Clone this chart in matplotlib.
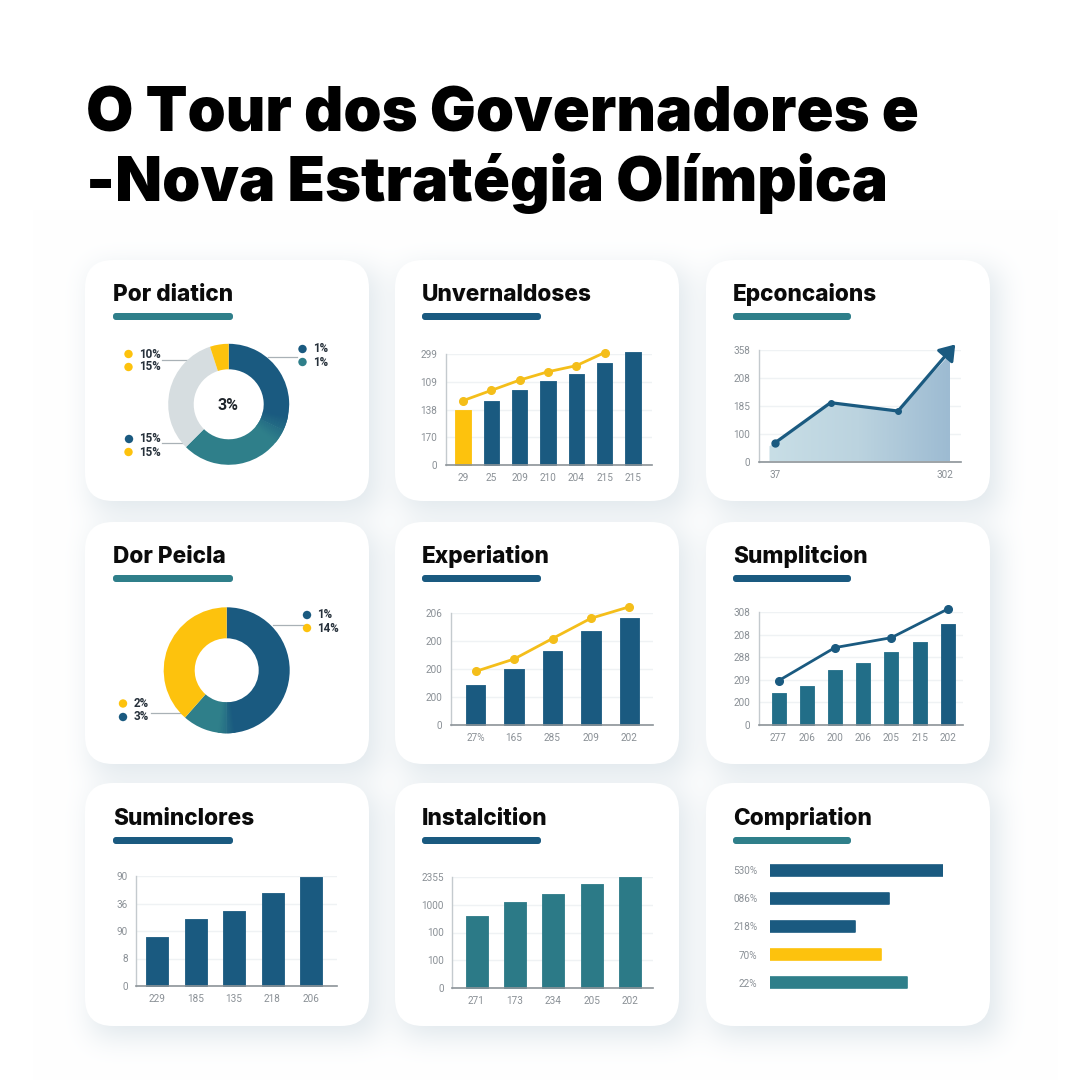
import numpy as np
import matplotlib
matplotlib.use("Agg")
import matplotlib.pyplot as plt
from matplotlib.patches import FancyBboxPatch, Wedge, Polygon, Circle
from matplotlib.colors import to_rgb, LinearSegmentedColormap

# ---------- data ----------
title_lines = ["O Tour dos Governadores e", "-Nova Estratégia Olímpica"]
card_titles = ["Por diaticn", "Unvernaldoses", "Epconcaions",
               "Dor Peicla", "Experiation", "Sumplitcion",
               "Suminclores", "Instalcition", "Compriation"]

donut1_values = [32, 30.5, 32.5, 5]
donut1_center = "3%"
donut2_values = [50, 11.5, 38.5]

unv_bars = [198, 232, 270, 303, 327, 369, 406]
unv_line = [232, 269, 306, 336, 358, 405]
unv_xlabels = ["29", "25", "209", "210", "204", "215", "215"]
unv_ylabels = ["0", "170", "138", "109", "299"]

epc_line_x = [37, 124, 229]
epc_line_y = [66, 211, 181]
epc_area_x = [29, 37, 124, 229, 310]
epc_area_y = [55, 66, 211, 181, 385]
epc_arrow_x = [229, 318]
epc_arrow_y = [181, 420]
epc_xticks = [37, 302]
epc_xlabels = ["37", "302"]
epc_ylabels = ["0", "100", "185", "208", "358"]

exp_bars = [144, 198, 262, 336, 380]
exp_line = [191, 235, 308, 380, 421]
exp_xlabels = ["27%", "165", "285", "209", "202"]
exp_ylabels = ["0", "200", "200", "200", "206"]

sum_bars = [142, 173, 241, 272, 321, 367, 445]
sum_line_x = [0, 2, 4, 6]
sum_line = [195, 342, 386, 513]
sum_xlabels = ["277", "206", "200", "206", "205", "215", "202"]
sum_ylabels = ["0", "200", "209", "288", "208", "308"]

sui_bars = [178, 243, 274, 337, 398]
sui_xlabels = ["229", "185", "135", "218", "206"]
sui_ylabels = ["0", "8", "90", "36", "90"]

ins_bars = [259, 310, 340, 373, 400]
ins_xlabels = ["271", "173", "234", "205", "202"]
ins_ylabels = ["0", "100", "100", "1000", "2355"]

com_values = [100, 69, 49, 64, 79]
com_labels = ["530%", "086%", "218%", "70%", "22%"]

# ---------- style ----------
NAVY = "#1A5A80"
TEAL = "#2F7F8A"
YEL = "#FDC20D"
GREY = "#D6DDE0"
TICK = "#8A9096"
GRID = "#EFF2F4"
AX_B = "#8C9398"
AX_L = "#C4CACE"
TITLE_FONT = ["Inter", "DejaVu Sans"]
TEXT_FONT = ["Roboto", "DejaVu Sans"]

W = H = 1080
fig = plt.figure(figsize=(W / 100, H / 100), dpi=100)
base = fig.add_axes([0, 0, 1, 1])
base.set_xlim(0, W)
base.set_ylim(H, 0)
base.axis("off")

cards = [(85, 369, 260, 501), (395, 679, 260, 501), (706, 990, 260, 501),
         (85, 369, 522, 764), (395, 679, 522, 764), (706, 990, 522, 764),
         (85, 369, 783, 1026), (395, 679, 783, 1026), (706, 990, 783, 1026)]


def blur(a, s):
    r = int(4 * s)
    k = np.exp(-0.5 * (np.arange(-r, r + 1) / s) ** 2)
    k /= k.sum()
    a = np.apply_along_axis(lambda v: np.convolve(v, k, mode="same"), 0, a)
    return np.apply_along_axis(lambda v: np.convolve(v, k, mode="same"), 1, a)


mask = np.zeros((H, W))
for (l, r, t, b) in cards:
    mask[t + 10:b + 10, l + 8:r + 8] = 1
mask = blur(mask, 15)
bgc = np.array([255, 255, 255]) / 255
shc = np.array([222, 230, 235]) / 255
img = bgc[None, None, :] * (1 - mask[..., None]) + shc[None, None, :] * mask[..., None]
base.imshow(img, extent=(0, W, H, 0), aspect="auto", zorder=0)
base.set_xlim(0, W)
base.set_ylim(H, 0)

for (l, r, t, b) in cards:
    base.add_patch(FancyBboxPatch((l + 28, t + 28), r - l - 56, b - t - 56,
                                  boxstyle="round,pad=28,rounding_size=28",
                                  fc="white", ec="none", zorder=1))

for line, y in zip(title_lines, [115, 183]):
    base.text(86, y, line, fontsize=44, fontweight="black", family=TITLE_FONT,
              color="black", va="center", ha="left", zorder=3)

title_pos = [(113, 295), (422, 295), (733, 295),
             (113, 557), (422, 557), (733, 557),
             (113, 819), (422, 819), (733, 819)]
accent_cols = [TEAL, NAVY, TEAL, TEAL, NAVY, NAVY, NAVY, NAVY, TEAL]
accent_w = [120, 119, 118] * 3
for txt, (x, y), c, w in zip(card_titles, title_pos, accent_cols, accent_w):
    base.text(x, y, txt, fontsize=16.3, fontweight="extra bold", family=TITLE_FONT,
              color="#0B0B0B", va="center", ha="left", zorder=3)
    base.add_patch(FancyBboxPatch((x + 3, y + 21), w - 6, 1,
                                  boxstyle="round,pad=3,rounding_size=3",
                                  fc=c, ec="none", zorder=3))


def axes_px(left, right, top, bottom):
    ax = fig.add_axes([left / W, 1 - bottom / H, (right - left) / W, (bottom - top) / H])
    ax.set_facecolor("none")
    ax.set_zorder(4)
    return ax


def style(ax, ymax, ylabels, xticks, xlabels):
    ticks = np.linspace(0, ymax, len(ylabels))
    ax.set_ylim(0, ymax)
    ax.set_yticks(ticks)
    ax.set_yticklabels(ylabels)
    ax.set_xticks(xticks)
    ax.set_xticklabels(xlabels)
    ax.tick_params(length=0, labelsize=7.2, labelcolor=TICK, pad=6)
    for t in ax.get_xticklabels() + ax.get_yticklabels():
        t.set_family(TEXT_FONT)
    ax.grid(axis="y", color=GRID, lw=1)
    ax.set_axisbelow(True)
    for s in ("top", "right"):
        ax.spines[s].set_visible(False)
    ax.spines["left"].set_color(AX_L)
    ax.spines["bottom"].set_color(AX_B)
    ax.spines["left"].set_linewidth(1)
    ax.spines["bottom"].set_linewidth(1.2)


def bar_panel(box, c0, step, width, bars, colors, ymax, ylabels, xlabels):
    left, right, top, bottom = box
    ax = axes_px(left, right, top, bottom)
    xs = np.arange(len(bars))
    rects = ax.bar(xs, bars, width=width / step, color=colors, edgecolor=colors,
                   linewidth=0.6, zorder=2, clip_on=False)
    for p in rects:
        p.set_joinstyle("round")
    ax.set_xlim((left - c0) / step, (right - c0) / step)
    style(ax, ymax, ylabels, xs, xlabels)
    return ax


def donut(cx, cy, ro, ri, values, colors, blend=None):
    ax = axes_px(cx - ro, cx + ro, cy - ro, cy + ro)
    ax.pie(values, colors=colors, startangle=90, counterclock=False, radius=1,
           wedgeprops=dict(width=1 - ri / ro, linewidth=0))
    ax.set_xlim(-1, 1)
    ax.set_ylim(-1, 1)
    if blend is not None:
        i, half = blend
        cw = sum(values[:i + 1]) / sum(values) * 360
        c1, c2 = np.array(to_rgb(colors[i])), np.array(to_rgb(colors[i + 1]))
        n = 24
        for k in range(n):
            a = cw - half + 2 * half * k / n
            f = (k + 0.5) / n
            ax.add_patch(Wedge((0, 0), 1, 90 - a - 2 * half / n - 0.2, 90 - a,
                               width=1 - ri / ro, fc=c1 * (1 - f) + c2 * f, ec="none"))
    for p in ax.patches:
        p.set_clip_on(False)
    return ax


def legend_item(x, y, color, text):
    base.add_patch(Circle((x, y), 4.2, fc=color, ec="none", zorder=3))
    base.text(x + 10.5, y, text, fontsize=8.4, fontweight="bold", family=TEXT_FONT,
              color="#26303A", va="center", ha="left", zorder=3)


def leader(x0, x1, y):
    base.plot([x0, x1], [y, y], color="#A9B1B6", lw=0.9, zorder=3)


# ---------- panel 1 ----------
donut(228.7, 404.3, 60.5, 35, donut1_values, [NAVY, TEAL, GREY, YEL], blend=(0, 14))
base.text(228.5, 405, donut1_center, fontsize=11.5, fontweight="bold", family=TEXT_FONT,
          color="#20262C", ha="center", va="center", zorder=6)
for x, y, c, t in [(128.5, 354, YEL, "10%"), (128.5, 367, YEL, "15%"),
                   (302.5, 349, NAVY, "1%"), (302.5, 362, TEAL, "1%"),
                   (129, 439, NAVY, "15%"), (128.5, 452, YEL, "15%")]:
    legend_item(x, y, c, t)
leader(162, 187, 360)
leader(268, 297, 357)
leader(162, 184, 443)

# ---------- panel 2 ----------
ax = bar_panel((445.5, 652, 354, 465), 463.1, 28.3, 15.5, unv_bars,
               [YEL] + [NAVY] * 6, 400, unv_ylabels, unv_xlabels)
ax.plot(range(len(unv_line)), unv_line, color="#F4BE1A", lw=2, marker="o", ms=5.5,
        clip_on=False, zorder=3)

# ---------- panel 3 ----------
ax = axes_px(758.6, 961, 350, 461.5)
style(ax, 400, epc_ylabels, epc_xticks, epc_xlabels)
x_per_px = (302 - 37) / ((1437 - 992) / 2.613)
xlim3 = (37 + (758.6 - (992 / 2.613 + 395)) * x_per_px,
         37 + (961 - (992 / 2.613 + 395)) * x_per_px)
cmap = LinearSegmentedColormap.from_list("a", ["#C8DEE6", "#BBD3DF", "#9DBBD2"])
grad = ax.imshow(np.linspace(0, 1, 200)[None, :], cmap=cmap, aspect="auto",
                 extent=(epc_area_x[0], epc_area_x[-1], 0, 430), zorder=1, clip_on=True)
poly = Polygon(list(zip(epc_area_x, epc_area_y)) + [(epc_area_x[-1], 0), (epc_area_x[0], 0)],
               closed=True, transform=ax.transData, fc="none", ec="none")
ax.add_patch(poly)
grad.set_clip_path(poly)
ax.set_xlim(*xlim3)
ax.set_ylim(0, 400)
ax.plot(epc_line_x, epc_line_y, color=NAVY, lw=2.3, zorder=3, clip_on=False)
ax.plot(epc_line_x[0], epc_line_y[0], "o", color=NAVY, ms=5, zorder=3, clip_on=False)
ax.plot(epc_line_x[1:], epc_line_y[1:], "o", color=NAVY, ms=4, zorder=3, clip_on=False)
ax.annotate("", xy=(epc_arrow_x[1], epc_arrow_y[1]), xytext=(epc_arrow_x[0], epc_arrow_y[0]),
            arrowprops=dict(arrowstyle="-|>,head_length=0.9,head_width=0.62", color=NAVY, lw=2.3,
                            shrinkA=0, shrinkB=0), annotation_clip=False, zorder=4)

# ---------- panel 4 ----------
donut(226.7, 670.3, 63, 32, donut2_values, [NAVY, TEAL, YEL], blend=(0, 8))
for x, y, c, t in [(307, 615, NAVY, "1%"), (307, 628, YEL, "14%"),
                   (123, 703.5, YEL, "2%"), (123, 717, NAVY, "3%")]:
    legend_item(x, y, c, t)
leader(273, 303, 625)
leader(151, 184, 713)

# ---------- panel 5 ----------
ax = bar_panel((450.5, 653, 612.7, 725), 475.7, 38.4, 19.5, exp_bars, NAVY, 400,
               exp_ylabels, exp_xlabels)
ax.plot(range(len(exp_line)), exp_line, color="#F4BE1A", lw=2, marker="o", ms=5.5,
        clip_on=False, zorder=3)

# ---------- panel 6 ----------
ax = bar_panel((758.6, 963, 612, 724.7), 778.5, 28.2, 14, sum_bars,
               ["#226E88"] * 5 + ["#1F6885", "#1A5B80"], 500, sum_ylabels, sum_xlabels)
ax.plot(sum_line_x, sum_line, color=NAVY, lw=2, marker="o", ms=5.5, clip_on=False, zorder=3)

# ---------- panel 7 ----------
bar_panel((136, 337, 876, 986), 157, 38.5, 22, sui_bars, NAVY, 400, sui_ylabels, sui_xlabels)

# ---------- panel 8 ----------
bar_panel((452, 653, 877, 988), 476.5, 38.4, 22, ins_bars, "#2C7A87", 400, ins_ylabels, ins_xlabels)

# ---------- panel 9 ----------
ax = axes_px(770, 943, 860, 993)
ypos = np.arange(len(com_values))
rects = ax.barh(ypos, com_values, height=0.385, color=[NAVY, NAVY, NAVY, YEL, TEAL],
                edgecolor=[NAVY, NAVY, NAVY, YEL, TEAL], linewidth=1.2)
for p in rects:
    p.set_joinstyle("round")
ax.set_xlim(0, 100)
ax.set_ylim(len(com_values) - 0.64, -0.36)
ax.set_yticks(ypos)
ax.set_yticklabels(com_labels)
ax.set_xticks([])
ax.tick_params(length=0, labelsize=7.2, labelcolor=TICK, pad=9)
for t in ax.get_yticklabels():
    t.set_family(TEXT_FONT)
for s in ax.spines.values():
    s.set_visible(False)

fig.savefig("out.png", dpi=100)
